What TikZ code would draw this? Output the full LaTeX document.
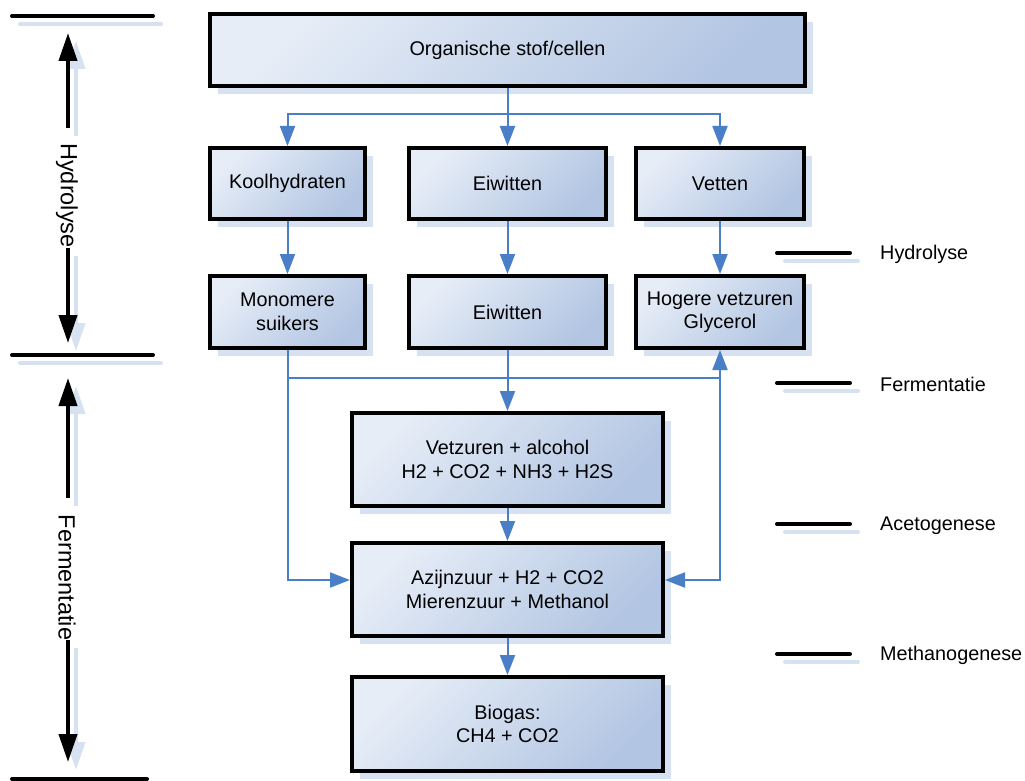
\documentclass[tikz,border=0pt]{standalone}
\usepackage{fontspec}
\setmainfont{Liberation Sans}
\usetikzlibrary{arrows.meta,shadows}
\definecolor{shadowblue}{HTML}{D6E1F1}
\definecolor{boxlight}{HTML}{E6EDF7}
\definecolor{boxdark}{HTML}{B2C5E2}
\definecolor{connblue}{HTML}{4A7EC6}
\begin{document}
\begin{tikzpicture}[x=1pt,y=-1pt,
  procbox/.style={rectangle, draw=black, line width=4pt, top color=boxlight, bottom color=boxdark, shading angle=45, align=center, inner sep=0pt, font=\fontsize{19.8}{23.5}\selectfont, general shadow={fill=shadowblue, shadow xshift=8pt, shadow yshift=-8pt}},
  conn/.style={connblue, line width=2pt},
  arr/.style={conn, -{Triangle[length=20pt,width=15pt]}},
  bar/.style={line width=4pt, line cap=round},
  barshadow/.style={bar, shadowblue},
  bigarr/.style={line width=4pt, -{Triangle[length=28pt,width=18pt]}},
  bigarrshadow/.style={bigarr, shadowblue},
  sidelabel/.style={inner sep=0pt, font=\fontsize{23.5}{28}\selectfont},
  phaselabel/.style={inner sep=0pt, anchor=west, font=\fontsize{19.8}{23.5}\selectfont}
]
\useasboundingbox (0,0) rectangle (1025,781);

% ---- left bars and arrows ----
\coordinate (b1l) at (12,16);  \coordinate (b1r) at (153,16);
\coordinate (b2l) at (12,355); \coordinate (b2r) at (153,355);
\coordinate (b3l) at (12,779); \coordinate (b3r) at (147,779);
\coordinate (hA) at (68,128); \coordinate (hAt) at (68,33);
\coordinate (hB) at (68,248); \coordinate (hBt) at (68,343);
\coordinate (fA) at (68,498); \coordinate (fAt) at (68,378);
\coordinate (fB) at (68,640); \coordinate (fBt) at (68,762);

\foreach \a/\b in {b1l/b1r,b2l/b2r,b3l/b3r}{
  \draw[barshadow] ([shift={(8,8)}]\a) -- ([shift={(8,8)}]\b);
}
\foreach \a/\b in {hA/hAt,hB/hBt,fA/fAt,fB/fBt}{
  \draw[bigarrshadow] ([shift={(8,8)}]\a) -- ([shift={(8,8)}]\b);
}
\foreach \a/\b in {b1l/b1r,b2l/b2r,b3l/b3r}{
  \draw[bar] (\a) -- (\b);
}
\foreach \a/\b in {hA/hAt,hB/hBt,fA/fAt,fB/fBt}{
  \draw[bigarr] (\a) -- (\b);
}
\node[sidelabel, rotate=-90] (lhyd) at (67,195.5) {Hydrolyse};
\node[sidelabel, rotate=-90] (lfer) at (67,577.5) {Fermentatie};

% ---- right phase markers ----
\foreach \y/\n/\t in {253/p1/Hydrolyse,383/p2/Fermentatie,524/p3/Acetogenese,654/p4/Methanogenese}{
  \coordinate (\n l) at (777,\y); \coordinate (\n r) at (850,\y);
  \draw[barshadow] ([shift={(8,8)}]\n l) -- ([shift={(8,8)}]\n r);
  \draw[bar] (\n l) -- (\n r);
  \node[phaselabel] (\n t) at (880,\y+1.5) {\t};
}

% ---- boxes ----
\node[procbox, minimum width=595pt, minimum height=72pt] (org) at (507.5,50) {Organische stof/cellen};
\node[procbox, minimum width=155pt, minimum height=71pt] (kool) at (287.5,183.5) {Koolhydraten};
\node[procbox, minimum width=197pt, minimum height=71pt] (eiw) at (507.5,183.5) {Eiwitten};
\node[procbox, minimum width=168pt, minimum height=71pt] (vet) at (720,183.5) {Vetten};
\node[procbox, minimum width=155pt, minimum height=72pt] (mono) at (287.5,312) {Monomere\\suikers};
\node[procbox, minimum width=197pt, minimum height=72pt] (eiw2) at (507.5,312) {Eiwitten};
\node[procbox, minimum width=168pt, minimum height=72pt] (hog) at (720,312) {Hogere vetzuren\\Glycerol};
\node[procbox, minimum width=311pt, minimum height=93pt] (vz) at (507.5,459.5) {Vetzuren + alcohol\\H2 + CO2 + NH3 + H2S};
\node[procbox, minimum width=311pt, minimum height=93pt] (az) at (507.5,589.5) {Azijnzuur + H2 + CO2\\Mierenzuur + Methanol};
\node[procbox, minimum width=311pt, minimum height=94pt] (bio) at (507.5,724) {Biogas:\\CH4 + CO2};

% ---- connectors ----
\coordinate (j1) at (507.5,114);
\draw[conn] (org.south) -- (j1);
\draw[arr] (j1) -| (kool.north);
\draw[arr] (j1) -- (eiw.north);
\draw[arr] (j1) -| (vet.north);
\draw[arr] (kool.south) -- (mono.north);
\draw[arr] (eiw.south) -- (eiw2.north);
\draw[arr] (vet.south) -- (hog.north);
\coordinate (lvlA) at (0,378);
\coordinate (lvlB) at (0,580);
\coordinate (j2) at (mono.south |- lvlA);
\coordinate (j3) at (hog.south |- lvlA);
\draw[conn] (mono.south) -- (j2) -- (j3);
\draw[arr] (j3) -- (hog.south);
\draw[arr] (eiw2.south) -- (vz.north);
\draw[arr] (j2) |- (lvlB -| az.west);
\draw[arr] (j3) |- (lvlB -| az.east);
\draw[arr] (vz.south) -- (az.north);
\draw[arr] (az.south) -- (bio.north);
\end{tikzpicture}
\end{document}
